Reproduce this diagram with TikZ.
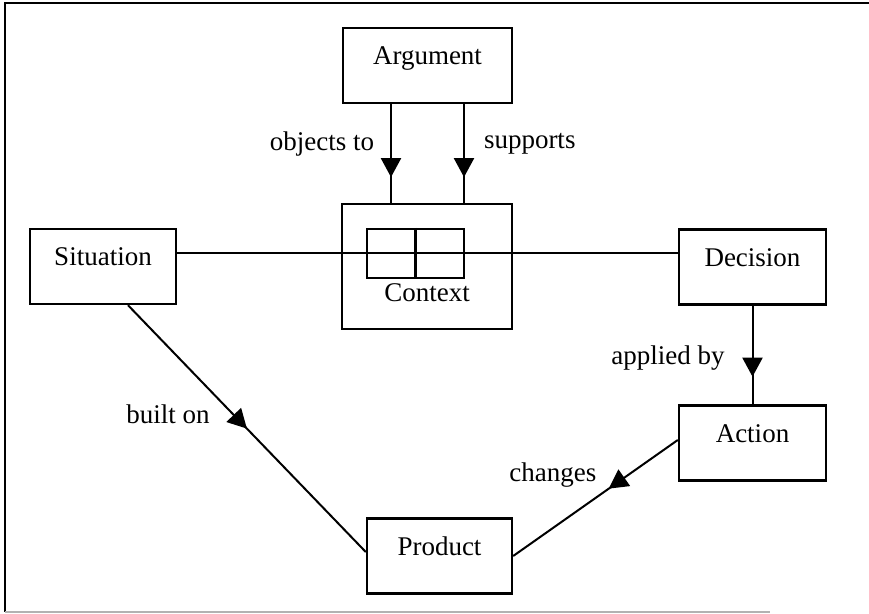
\documentclass[tikz,border=0pt]{standalone}
\usepackage{fontspec}
\setmainfont{Liberation Serif}
\usetikzlibrary{arrows.meta,calc,decorations.markings}

\tikzset{
  box/.style={draw, line width=1.2pt, inner sep=0pt, minimum width=#1,
    text height=18.4pt, text depth=19.1pt},
  box/.default=73pt,
  flow/.style={line width=1pt, postaction={decorate},
    decoration={markings,
      mark=at position #1 with {\arrow{Triangle[width=10pt,length=9.5pt]}}}},
  tag/.style={inner sep=0pt},
}

\begin{document}
\begin{tikzpicture}[x=0.5pt, y=-0.5pt, font=\fontsize{13.5}{16}\selectfont]
  \useasboundingbox (0,0) rectangle (869,614);
  % page frame
  \draw[line width=1.3pt] (5,612) -- (5,3) -- (869,3);
  \draw[gray!60, line width=0.8pt] (5,612) -- (770,612);

  % boxes
  \node[box=84.5pt] (arg) at (427.5,65.5) {Argument};
  \node[draw, line width=1.2pt, minimum width=85pt, minimum height=62.5pt] (ctx) at (427,266.5) {};
  \node[draw, line width=1.2pt, minimum width=48.5pt, minimum height=24.5pt] (grid) at (415.5,253.5) {};
  \draw[line width=1.2pt] (grid.north) -- (grid.south);
  \node[tag] (ctxname) at (427,293) {Context};
  \node[box] (sit) at (103,266.5) {Situation};
  \node[box=73.5pt] (dec) at (752.5,267) {Decision};
  \node[box=73.5pt] (act) at (752.5,443) {Action};
  \node[box=72.5pt] (prod) at (439.5,556) {Product};

  % line through the context grid
  \draw[line width=1pt] (sit.east |- grid.center) -- (dec.west |- grid.center);

  % arguments acting on the context
  \draw[flow=0.74] ($(arg.south)+(-36.5,0)$) coordinate (obj) -- (obj |- ctx.north)
    node[tag, pos=0.4, left=8pt] {objects to};
  \draw[flow=0.74] ($(arg.south)+(36.5,0)$) coordinate (sup) -- (sup |- ctx.north)
    node[tag, pos=0.4, right=9.5pt] {supports};

  % decision, action and product
  \draw[flow=0.72] (dec) -- (act) node[tag, pos=0.53, left=13.5pt] {applied by};
  \draw[flow=0.5] ($(sit.south)+(25,0)$) -- ($(prod.west)+(0,-4)$)
    node[tag, pos=0.44, left=11pt] {built on};
  \draw[flow=0.42] ($(act.west)+(0,-3)$) -- (prod.east)
    node[tag, pos=0.3, left=15.5pt] {changes};
\end{tikzpicture}
\end{document}
